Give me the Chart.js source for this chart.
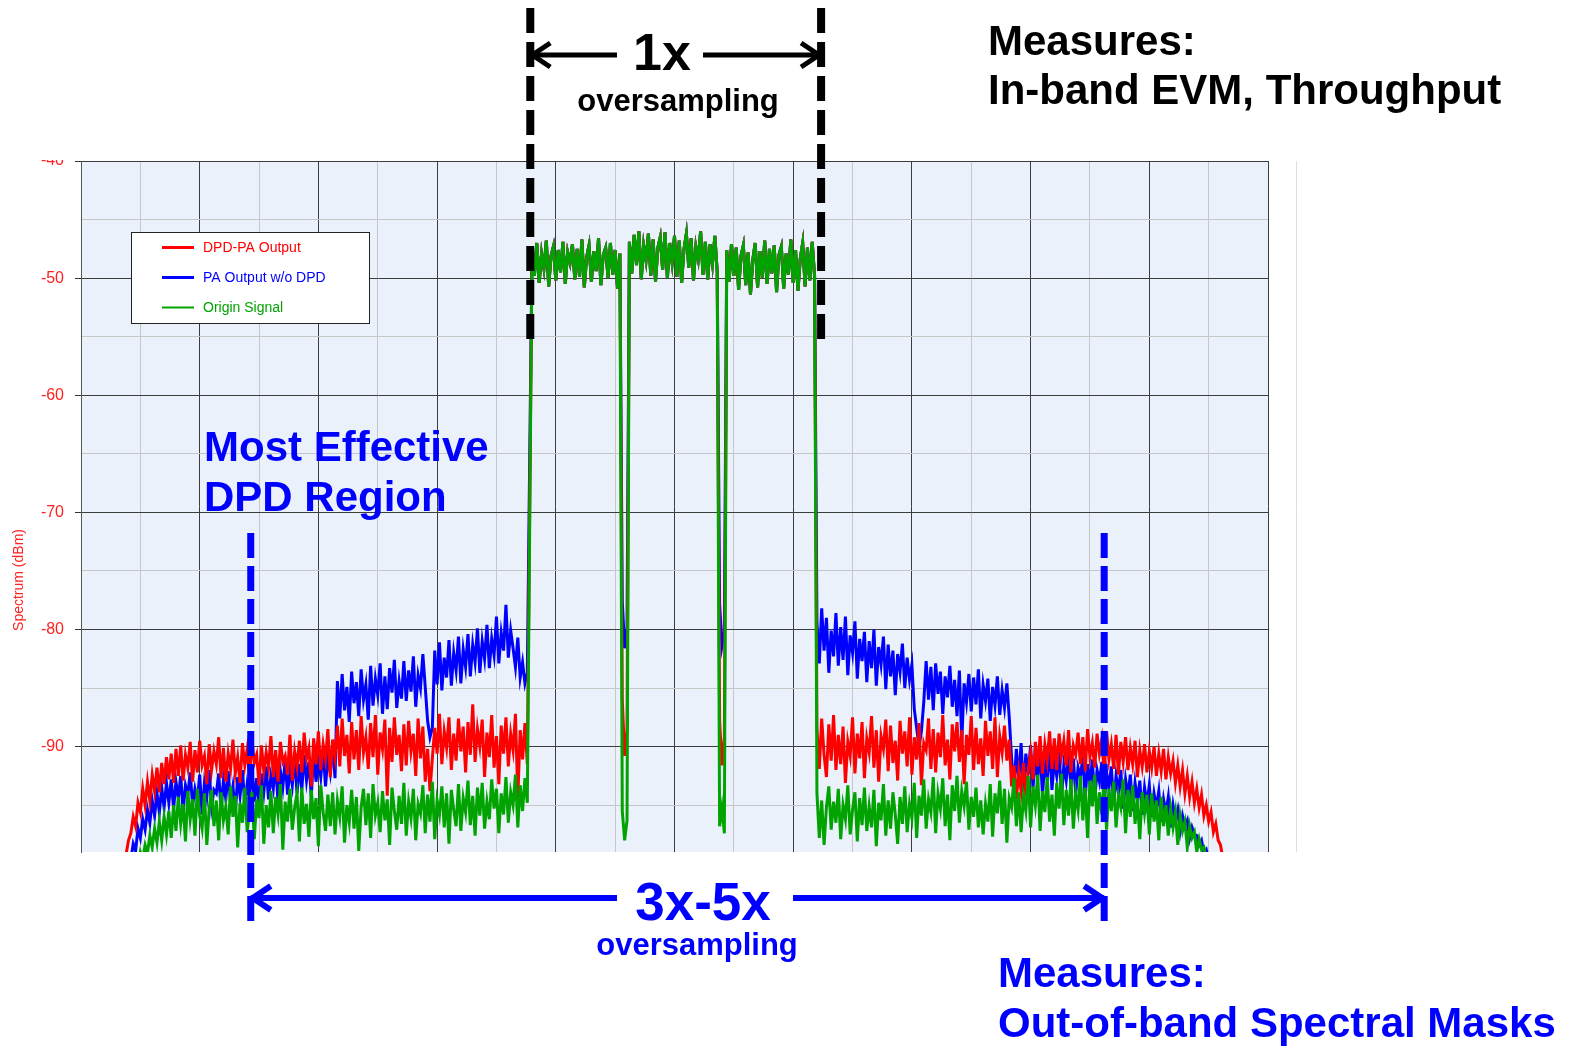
<!DOCTYPE html>
<html>
<head>
<meta charset="utf-8">
<title>DPD spectrum</title>
<script src="https://cdn.jsdelivr.net/npm/chart.js@4.4.1/dist/chart.umd.min.js"></script>
<style>
    html, body { margin: 0; padding: 0; background: #fff; }
    canvas { display: block; }
</style>
</head>
<body>
<canvas id="spectrumChart" width="1572" height="1052"></canvas>
<script>
// Frequency bins (arbitrary units, 0..100 across the plot), one value every freqStep
const freqStep = 0.2;
const leftStart = 3.6;     // lower adjacent band
const inBandStart = 38.0;  // carriers
const rightStart = 62.0;   // upper adjacent band

const xGrid = [0, 5, 10, 15, 20, 25, 30, 35, 40, 45, 50, 55, 60, 65, 70, 75, 80, 85, 90, 95, 100];
const yTicks = [-40, -45, -50, -55, -60, -65, -70, -75, -80, -85, -90, -95];

const seriesNames = ["DPD-PA Output", "PA Output w/o DPD", "Origin Signal"];

// DPD-PA Output (red)
const redLeft = [
    -100, -99.2, -98.0, -97.4, -96.0, -96.8, -94.8, -95.6, -93.6, -95.0,
    -93.0, -94.6, -92.4, -93.8, -91.8, -93.9, -91.4, -93.2, -90.9, -92.8,
    -90.6, -93.1, -90.2, -92.5, -89.9, -92.9, -90.7, -91.8, -89.6, -93.0,
    -90.3, -92.2, -89.5, -91.6, -90.8, -93.2, -89.8, -92.0, -90.4, -91.5,
    -89.2, -92.7, -90.1, -93.0, -90.6, -91.9, -89.4, -92.3, -90.9, -93.1,
    -89.7, -91.6, -90.2, -92.8, -89.3, -91.4, -90.7, -93.3, -89.9, -92.1,
    -90.5, -91.8, -89.1, -92.6, -90.3, -93.0, -89.6, -91.3, -90.8, -92.4,
    -89.0, -92.9, -90.4, -91.7, -89.5, -92.2, -88.8, -91.0, -90.1, -93.4,
    -89.3, -91.5, -88.7, -92.0, -89.8, -91.1, -88.5, -92.6, -89.4, -90.9,
    -88.2, -91.7, -87.6, -90.8, -89.0, -92.3, -87.9, -91.1, -88.6, -92.0,
    -87.4, -90.5, -89.2, -91.9, -88.0, -90.9, -87.3, -92.4, -88.8, -90.2,
    -87.7, -94.2, -88.4, -91.3, -87.5, -90.7, -89.0, -92.1, -88.1, -91.6,
    -87.8, -90.4, -88.9, -92.5, -87.6, -91.0, -88.3, -93.0, -90.2, -93.8,
    -91.0, -88.4, -90.6, -87.2, -91.5, -88.7, -90.1, -87.5, -92.0, -88.9,
    -91.2, -87.6, -90.4, -88.3, -92.2, -87.9, -90.7, -86.4, -91.3, -88.5,
    -90.0, -87.7, -92.6, -88.8, -90.9, -87.3, -91.8, -89.1, -93.2, -88.2,
    -90.6, -87.5, -91.7, -88.9, -90.3, -87.2, -94.4, -88.6, -91.1, -88.0,
    -91.5
];
const redInBand = [
    -47.4, -49.8, -47.0, -50.4, -47.9, -49.2, -46.8, -50.7, -48.1, -47.3,
    -50.2, -47.6, -49.5, -46.9, -50.5, -47.8, -48.7, -47.1, -50.1, -47.5,
    -49.9, -46.7, -50.8, -48.2, -47.2, -50.3, -47.7, -49.4, -46.6, -50.6,
    -48.0, -47.4, -50.0, -47.0, -49.7, -47.6, -50.9, -47.9,
    -86.0, -90.8, -88.6,
    -46.9, -49.6, -46.3, -48.9, -46.0, -50.1, -47.2, -48.5, -46.2, -49.8,
    -46.7, -50.3, -47.4, -46.5, -49.3, -46.1, -50.0, -47.0, -48.7, -46.4,
    -49.9, -46.8, -50.4, -47.5, -46.2, -49.1, -46.6, -50.2, -47.3, -48.4,
    -46.0, -49.7, -46.9, -50.1, -47.1, -48.8, -46.4, -49.5,
    -87.8, -91.6, -89.2,
    -47.6, -50.3, -47.1, -49.8, -47.4, -51.0, -48.1, -47.2, -50.6, -47.8,
    -51.4, -48.4, -47.0, -50.8, -47.7, -50.0, -46.8, -50.5, -47.5, -49.6,
    -47.2, -51.2, -48.0, -47.3, -50.9, -47.9, -49.7, -46.7, -50.4, -47.6,
    -51.1, -48.3, -47.0, -50.7, -47.4, -50.2, -46.9, -49.8
];
const redRight = [
    -88.4, -91.9, -87.6, -90.7, -92.6, -88.1, -91.2, -87.3, -92.0, -89.0,
    -91.5, -88.3, -93.1, -89.6, -90.8, -87.5, -92.3, -88.9, -91.0, -87.9,
    -92.7, -89.3, -90.5, -87.4, -91.8, -88.6, -93.0, -89.1, -90.2, -87.7,
    -92.1, -88.2, -91.4, -89.5, -92.9, -87.8, -90.6, -88.7, -91.7, -87.5,
    -92.4, -89.2, -91.1, -88.0, -93.3, -89.7, -90.3, -87.6, -91.9, -88.5,
    -92.2, -88.8, -90.9, -87.3, -91.6, -89.4, -92.8, -88.1, -90.4, -87.9,
    -91.3, -88.6, -93.2, -89.0, -90.7, -87.4, -92.0, -88.4, -91.5, -89.3,
    -92.5, -87.8, -90.8, -88.7, -91.9, -87.5, -92.6, -89.1, -90.5, -88.2,
    -91.2, -89.4, -93.4, -91.6, -94.5, -92.1, -93.8, -91.4, -94.2, -92.0,
    -90.5, -92.8, -89.6, -91.7, -89.1, -92.3, -89.8, -91.2, -88.7, -91.9,
    -89.3, -92.0, -88.9, -90.8, -89.5, -91.6, -88.6, -92.2, -89.9, -90.7,
    -88.8, -91.5, -89.2, -92.1, -88.5, -90.9, -89.7, -91.8, -88.9, -90.6,
    -89.4, -92.3, -88.7, -91.1, -89.8, -91.9, -89.0, -92.4, -89.6, -91.3,
    -89.2, -92.0, -90.1, -91.5, -89.5, -92.6, -90.3, -91.7, -89.8, -92.2,
    -90.4, -91.8, -90.0, -92.5, -90.6, -92.1, -90.2, -92.8, -90.9, -92.3,
    -91.2, -93.1, -91.6, -93.4, -92.0, -94.0, -92.5, -94.3, -93.0, -94.8,
    -93.6, -95.2, -94.1, -95.9, -95.0, -96.4, -95.6, -97.3, -96.6, -98.0,
    -98.4, -99.6, -101
];

// PA Output w/o DPD (blue)
const blueLeft = [
    -101, -101, -100.4, -99.6, -98.3, -98.9, -97.0, -97.8, -96.2, -97.1,
    -95.4, -96.5, -94.6, -95.9, -94.0, -95.6, -93.5, -95.2, -93.1, -94.8,
    -92.8, -95.3, -93.0, -94.4, -92.5, -95.5, -93.3, -94.1, -92.2, -95.0,
    -93.6, -94.6, -92.4, -95.8, -93.1, -94.3, -92.0, -95.1, -93.7, -94.0,
    -92.3, -95.4, -92.9, -94.5, -92.1, -94.8, -93.4, -95.6, -92.6, -94.2,
    -92.0, -95.0, -93.2, -94.4, -91.8, -94.7, -92.7, -95.2, -92.3, -93.9,
    -91.7, -94.5, -92.5, -93.6, -91.4, -94.8, -92.1, -93.5, -91.2, -94.1,
    -91.9, -93.3, -90.9, -94.0, -91.5, -93.7, -90.7, -92.9, -91.3, -94.3,
    -90.5, -93.0, -91.1, -92.6, -90.3, -93.4, -90.8, -92.2, -89.9, -92.7,
    -84.4, -87.6, -83.8, -86.9, -84.9, -87.9, -83.6, -86.3, -84.5, -87.4,
    -83.4, -86.0, -84.7, -87.7, -83.1, -86.5, -84.2, -85.6, -82.9, -87.2,
    -84.0, -86.8, -83.3, -85.4, -82.6, -86.7, -84.4, -85.9, -82.7, -86.1,
    -83.5, -85.3, -82.3, -86.6, -83.9, -85.0, -82.1, -84.9, -87.8, -89.2,
    -88.4, -81.8, -84.7, -81.1, -85.2, -82.4, -84.1, -80.9, -84.8, -82.0,
    -83.5, -80.6, -84.6, -81.7, -83.2, -80.4, -84.0, -81.3, -82.8, -79.9,
    -83.7, -81.0, -82.5, -79.6, -83.3, -80.8, -82.2, -78.9, -82.9, -80.3,
    -81.8, -77.9, -82.4, -80.1, -81.6, -83.2, -80.7, -84.1, -82.8, -84.6,
    -83.7
];
const blueInBand = [
    -47.4, -49.8, -47.0, -50.4, -47.9, -49.2, -46.8, -50.7, -48.1, -47.3,
    -50.2, -47.6, -49.5, -46.9, -50.5, -47.8, -48.7, -47.1, -50.1, -47.5,
    -49.9, -46.7, -50.8, -48.2, -47.2, -50.3, -47.7, -49.4, -46.6, -50.6,
    -48.0, -47.4, -50.0, -47.0, -49.7, -47.6, -50.9, -47.9,
    -77.6, -81.6, -79.8,
    -46.9, -49.6, -46.3, -48.9, -46.0, -50.1, -47.2, -48.5, -46.2, -49.8,
    -46.7, -50.3, -47.4, -46.5, -49.3, -46.1, -50.0, -47.0, -48.7, -46.4,
    -49.9, -46.8, -50.4, -47.5, -46.2, -49.1, -46.6, -50.2, -47.3, -48.4,
    -46.0, -49.7, -46.9, -50.1, -47.1, -48.8, -46.4, -49.5,
    -77.8, -81.4, -80.2,
    -47.6, -50.3, -47.1, -49.8, -47.4, -51.0, -48.1, -47.2, -50.6, -47.8,
    -51.4, -48.4, -47.0, -50.8, -47.7, -50.0, -46.8, -50.5, -47.5, -49.6,
    -47.2, -51.2, -48.0, -47.3, -50.9, -47.9, -49.7, -46.7, -50.4, -47.6,
    -51.1, -48.3, -47.0, -50.7, -47.4, -50.2, -46.9, -49.8
];
const blueRight = [
    -79.4, -82.9, -78.2, -81.8, -79.0, -83.7, -80.1, -82.3, -78.6, -83.1,
    -79.8, -82.6, -78.9, -83.9, -80.5, -82.0, -79.3, -84.2, -80.8, -82.7,
    -80.2, -84.5, -81.0, -83.3, -80.0, -84.8, -81.5, -83.0, -80.6, -85.1,
    -81.3, -84.0, -81.8, -85.6, -82.1, -83.6, -81.2, -85.0, -82.4, -84.3,
    -83.0, -86.8, -88.4, -90.0, -88.7, -86.2, -82.7, -86.0, -83.2, -86.9,
    -82.9, -85.5, -83.6, -87.2, -84.0, -85.8, -83.1, -86.6, -84.3, -87.4,
    -83.5, -89.6, -84.6, -86.2, -83.8, -87.0, -84.1, -86.4, -83.4, -87.6,
    -84.7, -86.1, -84.2, -87.8, -84.9, -86.5, -84.0, -87.3, -85.2, -86.7,
    -84.6, -87.5, -91.0, -93.6, -90.2, -92.9, -89.7, -93.9, -90.6, -92.4,
    -89.9, -93.5, -91.1, -92.7, -90.3, -94.1, -91.4, -92.8, -90.0, -93.7,
    -91.2, -92.5, -90.4, -94.3, -91.6, -92.9, -90.7, -93.4, -91.0, -94.0,
    -91.8, -92.6, -90.9, -94.4, -91.5, -93.2, -91.1, -94.6, -92.0, -93.0,
    -91.3, -94.8, -92.2, -93.5, -91.7, -95.0, -92.5, -93.9, -92.0, -95.3,
    -92.8, -94.2, -92.4, -95.5, -93.1, -94.6, -92.9, -95.8, -93.5, -94.9,
    -93.3, -96.0, -94.0, -95.2, -93.8, -96.4, -94.5, -95.7, -94.3, -96.9,
    -95.0, -96.3, -95.4, -97.2, -95.9, -96.8, -96.3, -97.8, -96.9, -97.5,
    -97.6, -98.4, -98.0, -99.1, -98.8, -99.7, -100.2, -101, -101, -101,
    -101, -101, -101
];

// Origin Signal (green)
const greenLeft = [
    -101, -101, -101, -101, -101, -101, -100.2, -99.0, -99.6, -98.4,
    -99.1, -97.6, -98.6, -97.0, -98.2, -96.4, -98.0, -96.0, -97.5, -95.5,
    -97.8, -95.0, -97.2, -94.3, -96.6, -94.9, -98.1, -93.8, -96.2, -94.5,
    -97.6, -93.6, -95.9, -97.0, -94.0, -98.4, -95.3, -93.7, -96.8, -94.6,
    -98.0, -93.9, -96.3, -95.1, -97.5, -93.4, -96.0, -94.2, -98.6, -94.8,
    -96.5, -93.5, -97.3, -95.4, -93.9, -97.9, -94.5, -96.1, -93.3, -98.3,
    -95.0, -96.9, -93.8, -97.4, -94.3, -95.8, -93.2, -98.8, -94.7, -96.4,
    -93.6, -97.1, -95.2, -94.0, -98.1, -93.5, -96.6, -94.9, -97.7, -93.7,
    -96.2, -94.4, -98.5, -93.3, -95.6, -97.2, -94.1, -96.8, -93.9, -97.5,
    -94.6, -96.0, -93.4, -98.2, -95.0, -96.5, -93.7, -97.0, -94.3, -98.9,
    -95.2, -93.6, -96.7, -94.0, -97.8, -93.2, -95.9, -94.8, -97.3, -93.8,
    -96.3, -94.5, -98.4, -93.5, -95.5, -97.1, -94.2, -96.6, -93.1, -97.6,
    -94.7, -96.1, -93.6, -98.0, -94.9, -95.7, -93.3, -97.4, -94.1, -96.4,
    -93.0, -97.9, -94.6, -95.8, -93.4, -96.9, -94.0, -98.3, -93.7, -95.4,
    -96.8, -93.2, -97.2, -94.4, -95.6, -92.9, -96.7, -94.2, -97.6, -93.5,
    -95.9, -93.1, -97.0, -94.7, -96.2, -92.8, -95.3, -93.6, -97.4, -94.0,
    -95.8, -92.6, -96.5, -93.9, -95.0, -92.4, -96.9, -93.3, -95.5, -92.7,
    -94.8
];
const greenInBand = [
    -47.4, -49.8, -47.0, -50.4, -47.9, -49.2, -46.8, -50.7, -48.1, -47.3,
    -50.2, -47.6, -49.5, -46.9, -50.5, -47.8, -48.7, -47.1, -50.1, -47.5,
    -49.9, -46.7, -50.8, -48.2, -47.2, -50.3, -47.7, -49.4, -46.6, -50.6,
    -48.0, -47.4, -50.0, -47.0, -49.7, -47.6, -50.9, -47.9,
    -95.5, -98.0, -96.3,
    -46.9, -49.6, -46.3, -48.9, -46.0, -50.1, -47.2, -48.5, -46.2, -49.8,
    -46.7, -50.3, -47.4, -46.5, -49.3, -46.1, -50.0, -47.0, -48.7, -46.4,
    -49.9, -46.8, -50.4, -47.5, -46.2, -49.1, -46.6, -50.2, -47.3, -48.4,
    -46.0, -49.7, -46.9, -50.1, -47.1, -48.8, -46.4, -49.5,
    -96.8, -95.2, -97.4,
    -47.6, -50.3, -47.1, -49.8, -47.4, -51.0, -48.1, -47.2, -50.6, -47.8,
    -51.4, -48.4, -47.0, -50.8, -47.7, -50.0, -46.8, -50.5, -47.5, -49.6,
    -47.2, -51.2, -48.0, -47.3, -50.9, -47.9, -49.7, -46.7, -50.4, -47.6,
    -51.1, -48.3, -47.0, -50.7, -47.4, -50.2, -46.9, -49.8
];
const greenRight = [
    -94.0, -97.8, -94.6, -98.4, -95.2, -93.4, -97.1, -94.7, -96.5, -93.6,
    -97.9, -95.0, -96.2, -93.3, -97.5, -95.4, -93.9, -98.1, -94.4, -96.7,
    -93.5, -97.2, -95.1, -96.9, -93.7, -98.5, -94.8, -96.3, -93.2, -97.6,
    -94.6, -97.0, -93.9, -95.8, -98.3, -94.3, -96.6, -93.4, -97.3, -94.9,
    -96.1, -93.1, -97.8, -94.2, -95.9, -92.8, -97.0, -94.5, -95.6, -92.6,
    -97.4, -94.0, -95.3, -92.7, -96.8, -94.1, -98.0, -93.3, -95.5, -92.5,
    -96.5, -93.8, -95.1, -93.0, -97.1, -94.3, -96.0, -93.5, -96.9, -94.6,
    -97.5, -94.9, -96.4, -93.2, -97.7, -94.0, -95.7, -92.9, -96.6, -93.6,
    -98.2, -94.4, -95.2, -92.7, -96.8, -93.9, -97.3, -94.2, -95.5, -92.5,
    -96.9, -93.4, -95.0, -92.4, -97.2, -93.8, -95.6, -92.6, -96.4, -94.1,
    -97.6, -93.1, -95.3, -92.3, -96.7, -93.7, -95.9, -92.8, -97.0, -94.0,
    -95.4, -92.5, -96.3, -93.5, -97.8, -92.9, -95.1, -92.4, -96.6, -93.9,
    -95.8, -92.7, -97.1, -93.6, -95.5, -93.0, -96.9, -94.2, -95.2, -92.8,
    -97.4, -93.7, -96.0, -93.3, -96.6, -94.4, -97.9, -93.9, -95.7, -94.1,
    -97.5, -94.0, -96.4, -94.6, -98.0, -94.3, -96.8, -95.0, -97.6, -95.3,
    -96.9, -95.6, -98.4, -95.9, -97.2, -96.4, -98.6, -96.8, -97.8, -97.3,
    -99.0, -97.9, -98.8, -98.6, -99.6, -100.4, -101, -101, -101, -101,
    -101, -101, -101
];

// Marker positions (same frequency units)
const inBandEdges = [37.85, 62.35];
const dpdRegionEdges = [14.3, 86.2];

const FONT = '"Liberation Sans", Arial, sans-serif';
const BLUE = "#0000ff";

// join the three bands of a trace into {x, y} points
function trace(left, inBand, right) {
    const pts = [];
    left.forEach((v, i) => pts.push({ x: leftStart + i * freqStep, y: v }));
    inBand.forEach((v, i) => pts.push({ x: inBandStart + i * freqStep, y: v }));
    right.forEach((v, i) => pts.push({ x: rightStart + i * freqStep, y: v }));
    return pts;
}

function isMajor(ctx) {
    return ctx.tick && Math.round(ctx.tick.value) % 10 === 0;
}

function text(ctx, str, x, y, size, color, align) {
    ctx.font = `bold ${size}px ${FONT}`;
    ctx.fillStyle = color;
    ctx.textAlign = align || "left";
    ctx.textBaseline = "alphabetic";
    ctx.fillText(str, x, y);
}

function dashedLine(ctx, x, y0, y1, color, width, dash) {
    ctx.save();
    ctx.strokeStyle = color;
    ctx.lineWidth = width;
    ctx.lineCap = "butt";
    ctx.setLineDash(dash);
    ctx.beginPath();
    ctx.moveTo(x, y0);
    ctx.lineTo(x, y1);
    ctx.stroke();
    ctx.restore();
}

// horizontal arrow shaft from x0 to x1, open head at the tip x1
function arrow(ctx, x0, x1, y, color, width) {
    const dir = x1 > x0 ? -1 : 1;
    ctx.save();
    ctx.strokeStyle = color;
    ctx.lineWidth = width;
    ctx.lineJoin = "miter";
    ctx.lineCap = "butt";
    ctx.beginPath();
    ctx.moveTo(x0, y);
    ctx.lineTo(x1, y);
    ctx.stroke();
    ctx.beginPath();
    ctx.moveTo(x1 + dir * 20, y - 12);
    ctx.lineTo(x1 + dir * 2, y);
    ctx.lineTo(x1 + dir * 20, y + 12);
    ctx.stroke();
    ctx.restore();
}

const annotate = {
    id: "annotate",
    beforeDraw(chart) {
        const { ctx, chartArea: a } = chart;
        ctx.save();
        ctx.fillStyle = "#eaf1fb";
        ctx.fillRect(a.left, a.top, a.right - a.left, a.bottom - a.top);
        ctx.restore();
    },
    afterDraw(chart) {
        const { ctx, chartArea: a, scales: { x } } = chart;
        ctx.save();

        // top of the "-40" label is cut off in the original
        ctx.fillStyle = "#fff";
        ctx.fillRect(0, 0, a.left - 2, a.top - 1);

        // faint line right of the plot
        ctx.strokeStyle = "#dedede";
        ctx.lineWidth = 1;
        ctx.beginPath();
        ctx.moveTo(1296.5, a.top);
        ctx.lineTo(1296.5, a.bottom);
        ctx.stroke();

        // y axis title
        ctx.save();
        ctx.translate(19, 580);
        ctx.rotate(-Math.PI / 2);
        ctx.font = `14px ${FONT}`;
        ctx.fillStyle = "#ff2020";
        ctx.textAlign = "center";
        ctx.textBaseline = "middle";
        ctx.fillText("Spectrum (dBm)", 0, 0);
        ctx.restore();

        // legend
        ctx.fillStyle = "#fff";
        ctx.fillRect(131, 232, 238, 91);
        ctx.strokeStyle = "#222";
        ctx.lineWidth = 1;
        ctx.strokeRect(131.5, 232.5, 238, 91);
        chart.data.datasets.forEach((ds, i) => {
            const ly = 247.5 + i * 30;
            ctx.strokeStyle = ds.borderColor;
            ctx.lineWidth = i === 2 ? 2 : 3;
            ctx.beginPath();
            ctx.moveTo(162, ly);
            ctx.lineTo(194, ly);
            ctx.stroke();
            ctx.font = `14px ${FONT}`;
            ctx.fillStyle = ds.borderColor;
            ctx.textAlign = "left";
            ctx.textBaseline = "middle";
            ctx.fillText(ds.label, 203, ly + 1);
        });

        // 1x oversampling (black)
        const bl = x.getPixelForValue(inBandEdges[0]);
        const br = x.getPixelForValue(inBandEdges[1]);
        dashedLine(ctx, bl, 8, 342, "#000", 8, [25, 9]);
        dashedLine(ctx, br, 8, 342, "#000", 8, [25, 9]);
        arrow(ctx, 617, bl, 55, "#000", 5);
        arrow(ctx, 703, br, 55, "#000", 5);
        text(ctx, "1x", 662, 70, 52, "#000", "center");
        text(ctx, "oversampling", 678, 111, 31, "#000", "center");
        text(ctx, "Measures:", 988, 55, 42, "#000");
        text(ctx, "In-band EVM, Throughput", 988, 104, 42, "#000");

        // 3x-5x oversampling (blue)
        const ul = x.getPixelForValue(dpdRegionEdges[0]);
        const ur = x.getPixelForValue(dpdRegionEdges[1]);
        dashedLine(ctx, ul, 533, 928, BLUE, 7, [25, 8]);
        dashedLine(ctx, ur, 533, 928, BLUE, 7, [25, 8]);
        arrow(ctx, 617, ul, 898, BLUE, 6);
        arrow(ctx, 793, ur, 898, BLUE, 6);
        text(ctx, "3x-5x", 703, 920, 53, BLUE, "center");
        text(ctx, "oversampling", 697, 955, 31, BLUE, "center");
        text(ctx, "Most Effective", 204, 461, 42, BLUE);
        text(ctx, "DPD Region", 204, 511, 42, BLUE);
        text(ctx, "Measures:", 998, 987, 42, BLUE);
        text(ctx, "Out-of-band Spectral Masks", 998, 1037, 42, BLUE);

        ctx.restore();
    }
};

Chart.defaults.font.family = FONT;

const ctx = document.getElementById("spectrumChart").getContext("2d");
const spectrumChart = new Chart(ctx, {
    type: "line",
    data: {
        datasets: [
            {
                label: seriesNames[0],
                data: trace(redLeft, redInBand, redRight),
                borderColor: "#ff0000",
                order: 1
            },
            {
                label: seriesNames[1],
                data: trace(blueLeft, blueInBand, blueRight),
                borderColor: "#0000ff",
                order: 2
            },
            {
                label: seriesNames[2],
                data: trace(greenLeft, greenInBand, greenRight),
                borderColor: "#00a300",
                order: 0
            }
        ]
    },
    options: {
        responsive: false,
        animation: false,
        events: [],
        layout: { padding: { top: 161, right: 304, bottom: 0, left: 0 } },
        elements: {
            point: { radius: 0 },
            line: { borderWidth: 3, tension: 0, fill: false }
        },
        datasets: { line: { clip: 0 } },
        plugins: {
            legend: { display: false },
            tooltip: { enabled: false }
        },
        scales: {
            x: {
                type: "linear",
                min: 0,
                max: 100,
                afterBuildTicks: axis => { axis.ticks = xGrid.map(v => ({ value: v })); },
                afterFit: axis => { axis.height = 200; },
                ticks: { display: false, autoSkip: false },
                border: { display: false },
                grid: {
                    drawTicks: false,
                    lineWidth: 1,
                    color: c => isMajor(c) ? "#3c3c3c" : "#c6c6c6"
                }
            },
            y: {
                min: -99,
                max: -40,
                afterBuildTicks: axis => { axis.ticks = yTicks.map(v => ({ value: v })); },
                afterFit: axis => { axis.width = 81; },
                ticks: {
                    autoSkip: false,
                    padding: 11,
                    color: "#ff2020",
                    font: { size: 16 },
                    callback: v => Math.round(v) % 10 === 0 ? String(v) : ""
                },
                border: { color: "#555", width: 1 },
                grid: {
                    lineWidth: 1,
                    tickLength: 6,
                    color: c => isMajor(c) ? "#3c3c3c" : "#c6c6c6",
                    tickColor: c => isMajor(c) ? "#333" : "rgba(0,0,0,0)"
                }
            }
        }
    },
    plugins: [annotate]
});
</script>
</body>
</html>
